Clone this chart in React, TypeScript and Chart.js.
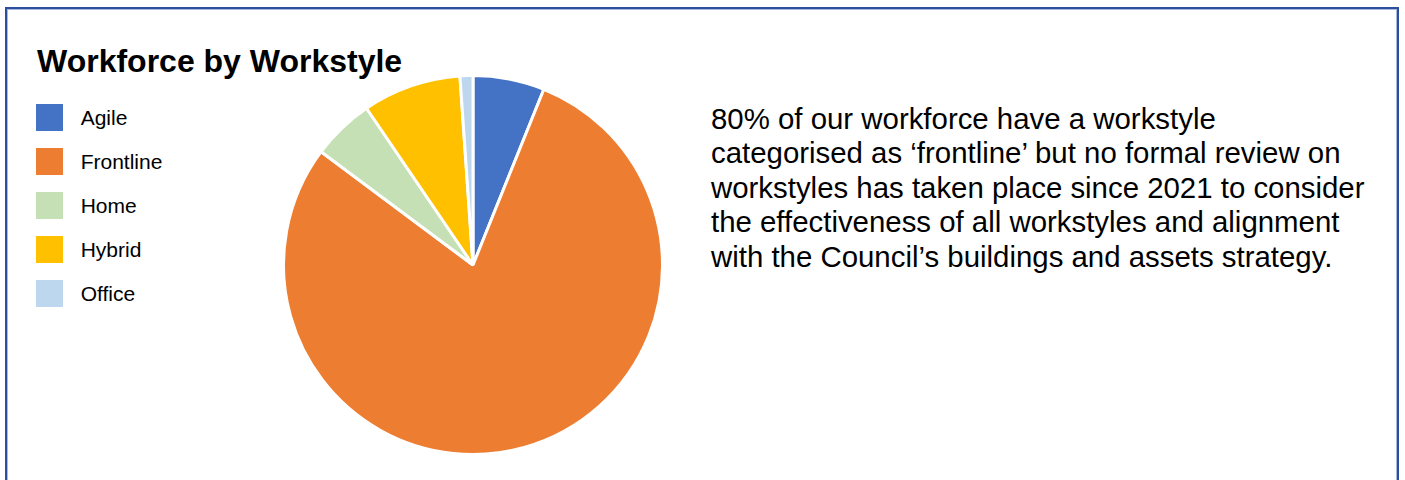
import React, { useEffect, useRef } from "react";
import { Chart, registerables } from "chart.js";

Chart.register(...registerables);

const categories = ["Agile", "Frontline", "Home", "Hybrid", "Office"];
const shares = [6.1, 79.1, 5.3, 8.4, 1.1];
const sliceColors = ["#4472C4", "#ED7D31", "#C5E0B4", "#FFC000", "#BDD7EE"];
const chartTitle = "Workforce by Workstyle";
const noteLines = [
  "80% of our workforce have a workstyle",
  "categorised as \u2018frontline\u2019 but no formal review on",
  "workstyles has taken place since 2021 to consider",
  "the effectiveness of all workstyles and alignment",
  "with the Council\u2019s buildings and assets strategy.",
];

const FONT = "'Liberation Sans', Arial, Helvetica, sans-serif";

export default function App() {
  const canvasRef = useRef<HTMLCanvasElement | null>(null);

  useEffect(() => {
    if (!canvasRef.current) return;
    const chart = new Chart(canvasRef.current, {
      type: "pie",
      data: {
        labels: categories,
        datasets: [
          {
            data: shares,
            backgroundColor: sliceColors,
            borderColor: "#ffffff",
            borderWidth: 3,
          },
        ],
      },
      options: {
        responsive: false,
        animation: false,
        devicePixelRatio: 1,
        layout: { padding: 0 },
        plugins: {
          legend: { display: false },
          tooltip: { enabled: false },
          title: { display: false },
        },
      },
    });
    return () => chart.destroy();
  }, []);

  return (
    <div
      style={{
        position: "fixed",
        inset: 0,
        overflow: "hidden",
        background: "#ffffff",
        fontFamily: FONT,
        color: "#000000",
      }}
    >
      <div
        style={{
          position: "absolute",
          left: 5,
          top: 7,
          width: 1394,
          height: 520,
          boxSizing: "border-box",
          border: "2px solid #2C4E9C",
          boxShadow: "inset 0 0 0 1px #A7B7DE",
        }}
      />
      <div
        style={{
          position: "absolute",
          left: 37,
          top: 45,
          fontSize: 32,
          lineHeight: "32px",
          fontWeight: 700,
          whiteSpace: "nowrap",
        }}
      >
        {chartTitle}
      </div>
      <div style={{ position: "absolute", left: 36, top: 104 }}>
        {categories.map((c, i) => (
          <div
            key={c}
            style={{
              display: "flex",
              alignItems: "center",
              height: 27,
              marginBottom: 17.0,
            }}
          >
            <div
              style={{
                width: 27,
                height: 27,
                background: sliceColors[i],
                flex: "none",
              }}
            />
            <div
              style={{
                marginLeft: 17.7,
                fontSize: 21,
                lineHeight: "27px",
                whiteSpace: "nowrap",
              }}
            >
              {c}
            </div>
          </div>
        ))}
      </div>
      <div style={{ position: "absolute", left: 282, top: 74, width: 382, height: 382 }}>
        <canvas ref={canvasRef} width={382} height={382} style={{ display: "block" }} />
      </div>
      <div style={{ position: "absolute", left: 711, top: 102 }}>
        {noteLines.map((t) => (
          <div
            key={t}
            style={{ fontSize: 29.4, lineHeight: "34.4px", whiteSpace: "nowrap" }}
          >
            {t}
          </div>
        ))}
      </div>
    </div>
  );
}
